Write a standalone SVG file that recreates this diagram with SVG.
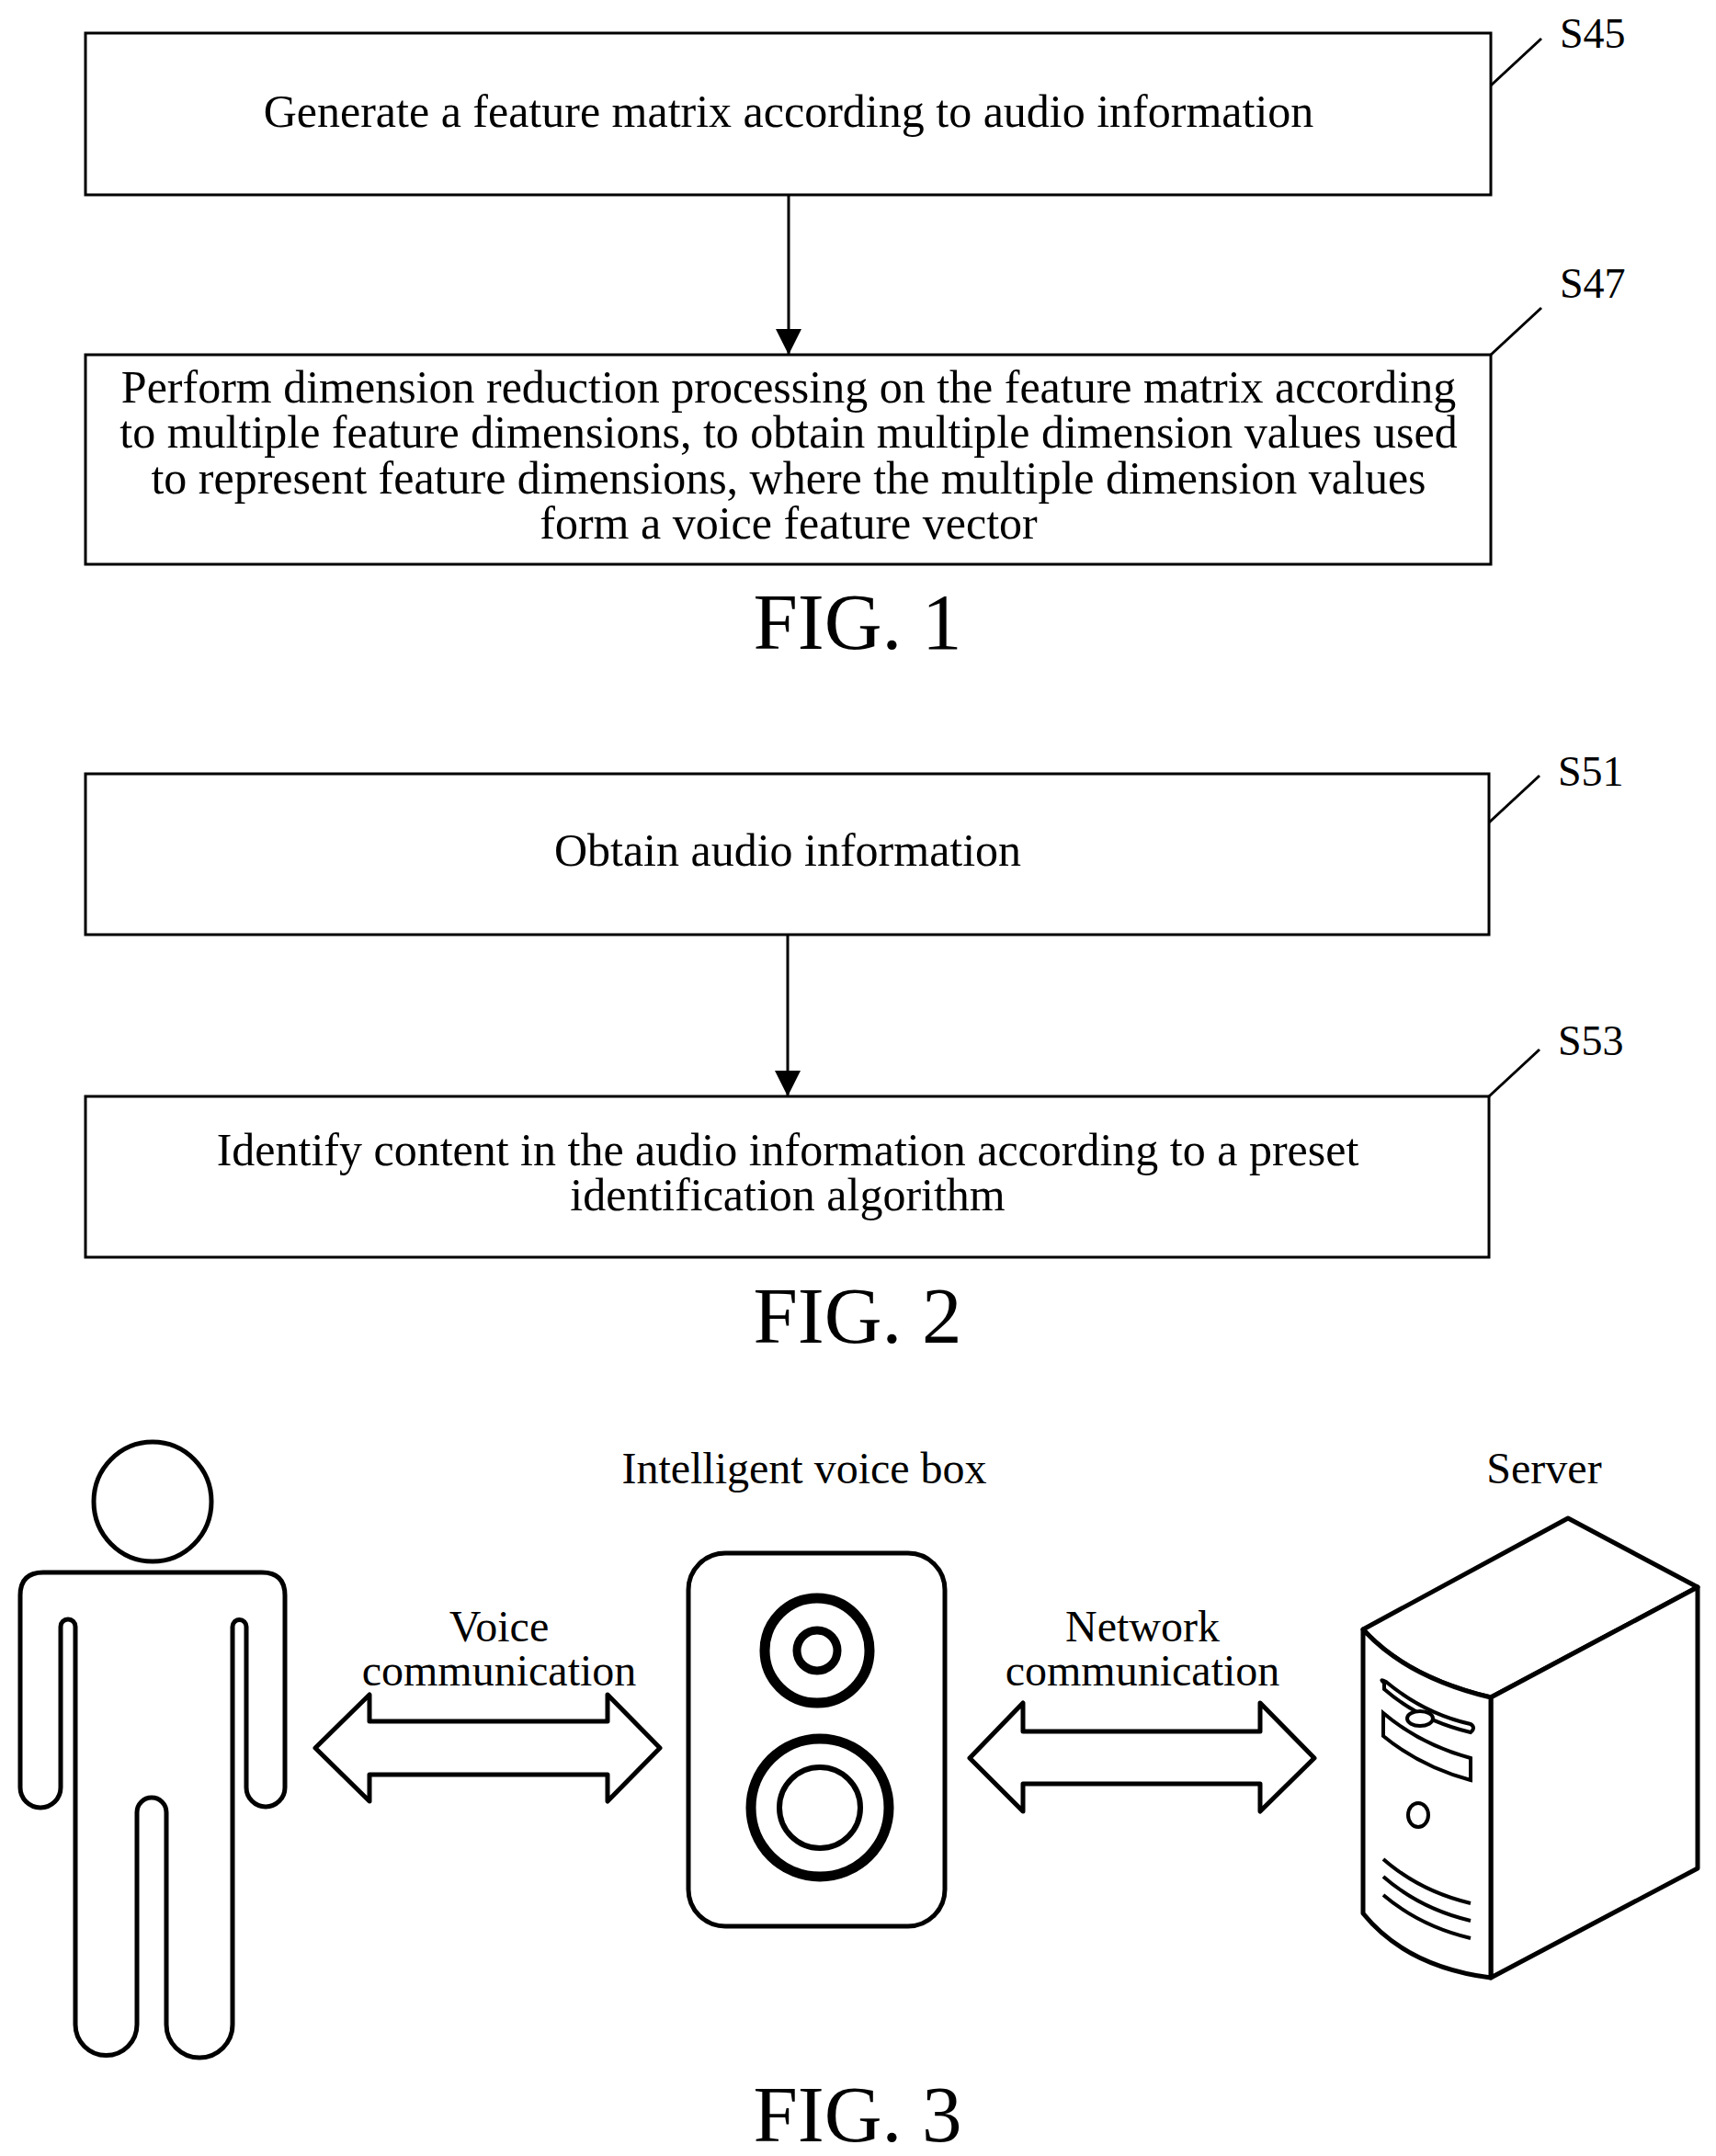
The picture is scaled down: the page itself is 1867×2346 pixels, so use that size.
<svg xmlns="http://www.w3.org/2000/svg" width="1867" height="2346" viewBox="0 0 1867 2346">
<style>
text{font-family:"Liberation Serif","Times New Roman",serif;fill:#000}
.t{font-size:50px;text-anchor:middle}
.f3{font-size:48px;text-anchor:middle}
.s{font-size:46px}
.fig{font-size:87px;text-anchor:middle}
.box{fill:#fff;stroke:#000;stroke-width:3}
.ln{fill:none;stroke:#000;stroke-width:3}
.ol{fill:#fff;stroke:#000;stroke-width:5;stroke-linejoin:round}
</style>
<defs>
<marker id="ah2" markerWidth="28" markerHeight="28" refX="28" refY="14" orient="auto" markerUnits="userSpaceOnUse"><path d="M0,0 L28,14 L0,28 Z" fill="#000"/></marker></defs>
<g id="connectors">
<line class="ln" x1="858" y1="212" x2="858" y2="386" marker-end="url(#ah2)"/>
<line class="ln" x1="857" y1="1017" x2="857" y2="1193" marker-end="url(#ah2)"/>
<line class="ln" x1="1622" y1="93" x2="1677" y2="42"/>
<line class="ln" x1="1622" y1="386" x2="1677" y2="335"/>
<line class="ln" x1="1620" y1="895" x2="1675" y2="844"/>
<line class="ln" x1="1620" y1="1193" x2="1675" y2="1142"/>
</g>
<g id="s45"><rect class="box" x="93" y="36" width="1529" height="176"/><text class="t" x="858" y="138">Generate a feature matrix according to audio information</text><text class="s" x="1697" y="52">S45</text></g>
<g id="s47"><rect class="box" x="93" y="386" width="1529" height="228"/>
<text class="t" x="858" y="438">Perform dimension reduction processing on the feature matrix according</text>
<text class="t" x="858" y="487">to multiple feature dimensions, to obtain multiple dimension values used</text>
<text class="t" x="858" y="537">to represent feature dimensions, where the multiple dimension values</text>
<text class="t" x="858" y="586">form a voice feature vector</text>
<text class="s" x="1697" y="324">S47</text></g>
<text class="fig" x="933" y="706">FIG. 1</text>
<g id="s51"><rect class="box" x="93" y="842" width="1527" height="175"/><text class="t" x="857" y="942">Obtain audio information</text><text class="s" x="1695" y="855">S51</text></g>
<g id="s53"><rect class="box" x="93" y="1193" width="1527" height="175"/>
<text class="t" x="857" y="1268">Identify content in the audio information according to a preset</text>
<text class="t" x="857" y="1317">identification algorithm</text>
<text class="s" x="1695" y="1148">S53</text></g>
<text class="fig" x="933" y="1461">FIG. 2</text>
<g id="person">
<ellipse cx="166" cy="1634" rx="64" ry="65" fill="#fff" stroke="#000" stroke-width="5"/>
<path class="ol" d="M47,1711 H285 Q310,1711 310,1736 V1945 A21,21 0 0 1 268,1945 V1770 A7.5,7.5 0 0 0 253,1770 V2203 A36,36 0 0 1 181,2203 V1972 A16,16 0 0 0 149,1972 V2203 A33.5,33.5 0 0 1 82,2203 V1770 A8,8 0 0 0 66,1770 V1945 A22,22 0 0 1 22,1945 V1736 Q22,1711 47,1711 Z"/>
</g>
<g id="voice_link">
<text class="f3" x="543" y="1786">Voice</text><text class="f3" x="543" y="1834">communication</text>
<path class="ol" stroke-width="3" d="M343,1902 L402,1844 V1873 H661 V1844 L718,1902 L661,1960 V1931 H402 V1960 Z"/>
</g>
<g id="speaker">
<text class="f3" x="875" y="1614">Intelligent voice box</text>
<rect x="749" y="1690" width="279" height="406" rx="40" fill="#fff" stroke="#000" stroke-width="5"/>
<circle cx="889" cy="1796" r="57" fill="none" stroke="#000" stroke-width="11"/>
<circle cx="889" cy="1796" r="22" fill="none" stroke="#000" stroke-width="9"/>
<circle cx="892" cy="1967" r="75" fill="none" stroke="#000" stroke-width="11"/>
<circle cx="892" cy="1967" r="44" fill="none" stroke="#000" stroke-width="6"/>
</g>
<g id="network_link">
<text class="f3" x="1243" y="1786">Network</text><text class="f3" x="1243" y="1834">communication</text>
<path class="ol" stroke-width="3" d="M1055,1913 L1113,1853 V1884 H1371 V1853 L1430,1913 L1371,1971 V1941 H1113 V1971 Z"/>
</g>
<g id="server">
<text class="f3" x="1680" y="1614">Server</text>
<path class="ol" d="M1483,1773 L1706,1652 L1847,1727 L1622,1847 Q1530,1825 1483,1773 Z"/>
<path class="ol" d="M1622,1847 L1847,1727 V2033 L1622,2152 Z"/>
<path class="ol" d="M1483,1773 Q1530,1825 1622,1847 V2152 Q1530,2140 1483,2082 Z"/>
<path fill="none" stroke="#000" stroke-width="4" d="M1506,1831 Q1500,1826 1508,1830 Q1550,1865 1600,1876 Q1606,1880 1600,1885 Q1545,1872 1506,1838 Z"/>
<ellipse cx="1545" cy="1870" rx="14" ry="8" fill="#fff" stroke="#000" stroke-width="4"/>
<path fill="none" stroke="#000" stroke-width="4" d="M1505,1864 Q1545,1898 1600,1913 V1937 Q1545,1922 1505,1889 Z"/>
<ellipse cx="1543" cy="1975" rx="11" ry="13" fill="none" stroke="#000" stroke-width="4"/>
<path fill="none" stroke="#000" stroke-width="4" d="M1505,2023 Q1545,2058 1600,2071 M1505,2042 Q1545,2077 1600,2090 M1505,2062 Q1545,2096 1600,2109"/>
</g>
<text class="fig" x="933" y="2330">FIG. 3</text>
</svg>
